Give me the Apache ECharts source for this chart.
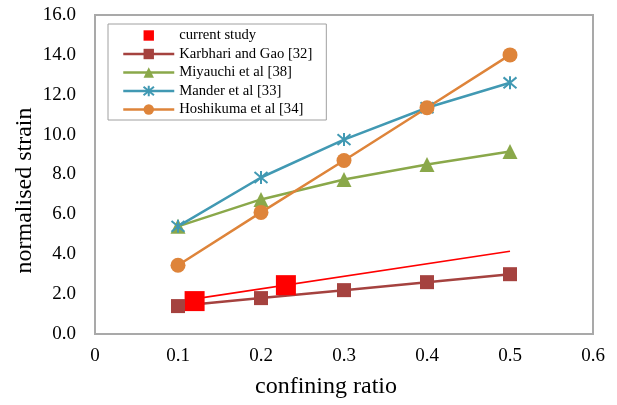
<!DOCTYPE html>
<html>
<head>
<meta charset="utf-8">
<script src="https://cdn.jsdelivr.net/npm/echarts@6/dist/echarts.min.js"></script>
<style>
  html, body { margin: 0; padding: 0; background: #ffffff; }
  #chart { width: 617px; height: 405px; }
</style>
</head>
<body>
<div id="chart"></div>
<script>
// confining ratio (x) for the published models
const ratios = [0.1, 0.2, 0.3, 0.4, 0.5];

// normalised strain predicted by each model
const karbhariGao = [1.4, 1.8, 2.2, 2.6, 3.0];
const miyauchi    = [5.4, 6.75, 7.75, 8.5, 9.15];
const mander      = [5.4, 7.85, 9.75, 11.35, 12.6];
const hoshikuma   = [3.45, 6.1, 8.7, 11.35, 14.0];

// test results of the present study
const currentX = [0.12, 0.23];
const currentY = [1.65, 2.45];

// linear trend of the test results
const trendX = [0.12, 0.5];
const trendY = [1.76, 4.15];

// axis tick values
const xTicks = [0, 0.1, 0.2, 0.3, 0.4, 0.5, 0.6];
const yTicks = [0, 2, 4, 6, 8, 10, 12, 14, 16];

const seriesNames = [
  'current study',
  'Karbhari and Gao [32]',
  'Miyauchi et al [38]',
  'Mander et al [33]',
  'Hoshikuma et al [34]'
];

const pair = (xs, ys) => xs.map((x, i) => [x, ys[i]]);

const FONT = '"Liberation Serif", "Times New Roman", serif';
const STAR = 'path://M0,0L10,10M10,0L0,10M5,-1L5,11';

const chart = echarts.init(document.getElementById('chart'), null, { renderer: 'canvas' });

chart.setOption({
  animation: false,
  backgroundColor: '#ffffff',
  textStyle: { fontFamily: FONT },
  grid: {
    left: 95, right: 24, top: 15, bottom: 71,
    show: true,
    borderColor: '#a9a9a9',
    borderWidth: 2,
    backgroundColor: 'transparent'
  },
  legend: {
    data: seriesNames,
    orient: 'vertical',
    left: 108,
    top: 24,
    padding: [4, 14, 3, 14],
    itemWidth: 51,
    itemHeight: 13,
    itemGap: 3.5,
    backgroundColor: '#ffffff',
    borderColor: '#a0a0a0',
    borderWidth: 1,
    lineStyle: { width: 'inherit' },
    textStyle: { fontFamily: FONT, fontSize: 14.67, color: '#000000' }
  },
  xAxis: {
    type: 'value',
    min: xTicks[0],
    max: xTicks[xTicks.length - 1],
    interval: 0.1,
    name: 'confining ratio',
    nameLocation: 'middle',
    nameMoveOverlap: false,
    nameGap: 41,
    nameTextStyle: { fontFamily: FONT, fontSize: 24, color: '#000000', padding: [0, 36, 0, 0] },
    axisLine: { show: false },
    axisTick: { show: false },
    splitLine: { show: false },
    axisLabel: {
      margin: 13,
      fontFamily: FONT, fontSize: 19, color: '#000000',
      formatter: v => (v === 0 ? '0' : v.toFixed(1))
    }
  },
  yAxis: {
    type: 'value',
    min: yTicks[0],
    max: yTicks[yTicks.length - 1],
    interval: 2,
    name: 'normalised strain',
    nameLocation: 'middle',
    nameMoveOverlap: false,
    nameRotate: 90,
    nameGap: 58,
    nameTextStyle: { fontFamily: FONT, fontSize: 24, color: '#000000', padding: [0, 32, 0, 0] },
    axisLine: { show: false },
    axisTick: { show: false },
    splitLine: { show: false },
    axisLabel: {
      margin: 19,
      fontFamily: FONT, fontSize: 19, color: '#000000',
      formatter: v => v.toFixed(1)
    }
  },
  series: [
    {
      name: seriesNames[0],
      type: 'line',
      data: pair(currentX, currentY),
      symbol: 'rect',
      symbolSize: 20,
      lineStyle: { width: 0 },
      itemStyle: { color: '#ff0000' }
    },
    {
      name: seriesNames[1],
      type: 'line',
      data: pair(ratios, karbhariGao),
      symbol: 'rect',
      symbolSize: 14,
      lineStyle: { width: 2.5, color: '#a5423f' },
      itemStyle: { color: '#a5423f' }
    },
    {
      name: seriesNames[2],
      type: 'line',
      data: pair(ratios, miyauchi),
      symbol: 'triangle',
      symbolSize: 15,
      lineStyle: { width: 2.5, color: '#8aa84a' },
      itemStyle: { color: '#8aa84a' }
    },
    {
      name: seriesNames[3],
      type: 'line',
      data: pair(ratios, mander),
      symbol: STAR,
      symbolSize: 13,
      lineStyle: { width: 2.5, color: '#4199b3' },
      itemStyle: { color: '#4199b3', borderColor: '#4199b3', borderWidth: 2 }
    },
    {
      name: seriesNames[4],
      type: 'line',
      data: pair(ratios, hoshikuma),
      symbol: 'circle',
      symbolSize: 15,
      lineStyle: { width: 2.5, color: '#de843a' },
      itemStyle: { color: '#de843a' }
    },
    {
      name: 'trend',
      type: 'line',
      data: pair(trendX, trendY),
      symbol: 'none',
      lineStyle: { width: 1.6, color: '#ff0000' },
      z: 1
    }
  ]
});
</script>
</body>
</html>
